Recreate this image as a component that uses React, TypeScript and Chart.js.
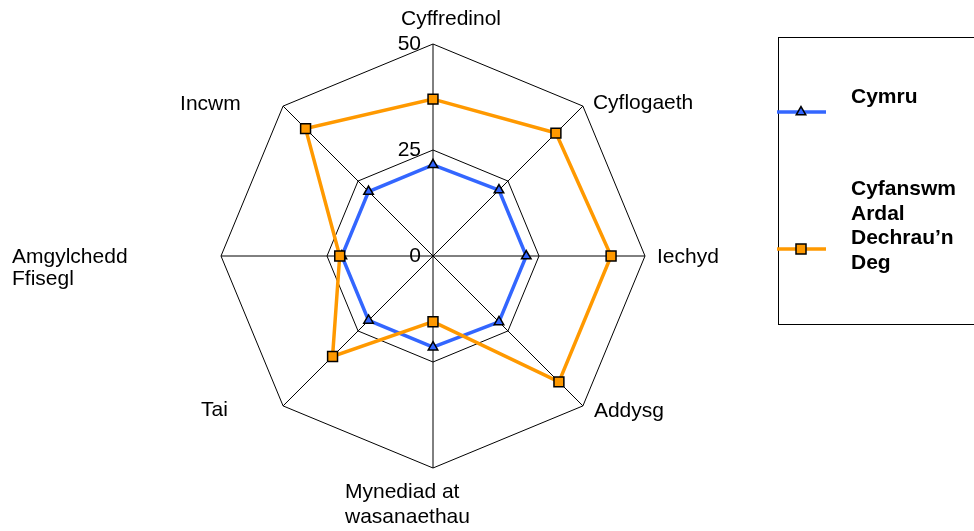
import React, { useEffect, useRef } from "react";
import { Chart, registerables } from "chart.js";

Chart.register(...registerables);

// ---- data ----
const categories: (string | string[])[] = [
  "Cyffredinol",
  "Cyflogaeth",
  "Iechyd",
  "Addysg",
  ["Mynediad at", "wasanaethau"],
  "Tai",
  ["Amgylchedd", "Ffisegl"],
  "Incwm",
];
const cymruValues = [21.5, 22, 22, 22, 21.5, 21.5, 21.5, 21.5];
const dechrauValues = [37, 41, 42, 42, 15.5, 33.5, 22, 42.5];
const tickValues = [0, 25, 50];
const seriesNames: string[][] = [["Cymru"], ["Cyfanswm", "Ardal", "Dechrau’n", "Deg"]];

const BLUE = "#3366FF";
const ORANGE = "#FF9900";
const FONT = '"Liberation Sans", Arial, sans-serif';

function drawTriangle(ctx: CanvasRenderingContext2D, x: number, y: number, r: number) {
  ctx.beginPath();
  for (let k = 0; k < 3; k++) {
    const a = -Math.PI / 2 + (k * 2 * Math.PI) / 3;
    const px = x + Math.cos(a) * r;
    const py = y + Math.sin(a) * r;
    if (k === 0) ctx.moveTo(px, py);
    else ctx.lineTo(px, py);
  }
  ctx.closePath();
}

const overlayPlugin = {
  id: "overlay",
  afterDraw(chart: any) {
    const ctx: CanvasRenderingContext2D = chart.ctx;
    const r = chart.scales.r;
    ctx.save();
    ctx.fillStyle = "#000";
    ctx.font = `21px ${FONT}`;

    // axis (point) labels
    const offsets = [
      [-32, -19],
      [10, 3],
      [12, 7],
      [11, 11],
      [-88, 30],
      [-82, 10],
      [-209, 7],
      [-103, 4],
    ];
    const gaps = [0, 0, 0, 0, 25, 0, 22, 0];
    ctx.textAlign = "left";
    ctx.textBaseline = "alphabetic";
    categories.forEach((lab, i) => {
      const p = r.getPointPosition(i, r.drawingArea);
      const lines = Array.isArray(lab) ? lab : [lab];
      lines.forEach((t, j) => {
        ctx.fillText(t, p.x + offsets[i][0], p.y + offsets[i][1] + j * gaps[i]);
      });
    });

    // tick labels
    ctx.textAlign = "right";
    ctx.textBaseline = "middle";
    tickValues.forEach((v) => {
      const d = r.getDistanceFromCenterForValue(v);
      ctx.fillText(String(v), r.xCenter - 12, r.yCenter - d);
    });

    // legend box
    ctx.strokeStyle = "#000";
    ctx.lineWidth = 1;
    ctx.strokeRect(778.5, 37.5, 300, 287);

    const sampleY = [112, 249];
    const textY = [[103], [195, 219.5, 244, 268.5]];
    const colors = [BLUE, ORANGE];
    ctx.font = `bold 21px ${FONT}`;
    ctx.textAlign = "left";
    ctx.textBaseline = "alphabetic";
    seriesNames.forEach((lines, i) => {
      const y = sampleY[i];
      ctx.strokeStyle = colors[i];
      ctx.lineWidth = 3.5;
      ctx.beginPath();
      ctx.moveTo(777, y);
      ctx.lineTo(826, y);
      ctx.stroke();
      ctx.fillStyle = colors[i];
      ctx.strokeStyle = "#000";
      ctx.lineWidth = 1.5;
      if (i === 0) {
        drawTriangle(ctx, 801, y, 5.5);
        ctx.fill();
        ctx.stroke();
      } else {
        ctx.beginPath();
        ctx.rect(796, y - 5, 10, 10);
        ctx.fill();
        ctx.stroke();
      }
      ctx.fillStyle = "#000";
      lines.forEach((t, j) => ctx.fillText(t, 851, textY[i][j]));
    });
    ctx.restore();
  },
};

export default function App() {
  const ref = useRef<HTMLCanvasElement | null>(null);
  useEffect(() => {
    if (!ref.current) return;
    const chart = new Chart(ref.current, {
      type: "radar",
      data: {
        labels: categories.map((c) => (Array.isArray(c) ? c.join(" ") : c)),
        datasets: [
          {
            label: seriesNames[0].join(" "),
            data: cymruValues,
            borderColor: BLUE,
            backgroundColor: BLUE,
            borderWidth: 3.5,
            fill: false,
            tension: 0,
            pointStyle: "triangle",
            pointRadius: 5.5,
            pointBackgroundColor: BLUE,
            pointBorderColor: "#000",
            pointBorderWidth: 1.5,
            order: 1,
          },
          {
            label: seriesNames[1].join(" "),
            data: dechrauValues,
            borderColor: ORANGE,
            backgroundColor: ORANGE,
            borderWidth: 3.5,
            fill: false,
            tension: 0,
            pointStyle: "rect",
            pointRadius: 7,
            pointBackgroundColor: ORANGE,
            pointBorderColor: "#000",
            pointBorderWidth: 1.5,
            order: 0,
          },
        ],
      },
      options: {
        responsive: false,
        animation: false,
        layout: { padding: { left: 0, right: 108, top: 44, bottom: 63 } },
        plugins: { legend: { display: false }, tooltip: { enabled: false } },
        scales: {
          r: {
            min: 0,
            max: 50,
            ticks: { display: false, stepSize: 25 },
            pointLabels: { display: false },
            grid: { color: "#000", lineWidth: 1, circular: false },
            angleLines: { color: "#000", lineWidth: 1 },
          },
        },
      },
      plugins: [overlayPlugin],
    });
    return () => chart.destroy();
  }, []);
  return (
    <div style={{ position: "fixed", left: 0, top: 0, width: 974, height: 531, background: "#fff" }}>
      <canvas ref={ref} width={974} height={531} style={{ display: "block" }} />
    </div>
  );
}
